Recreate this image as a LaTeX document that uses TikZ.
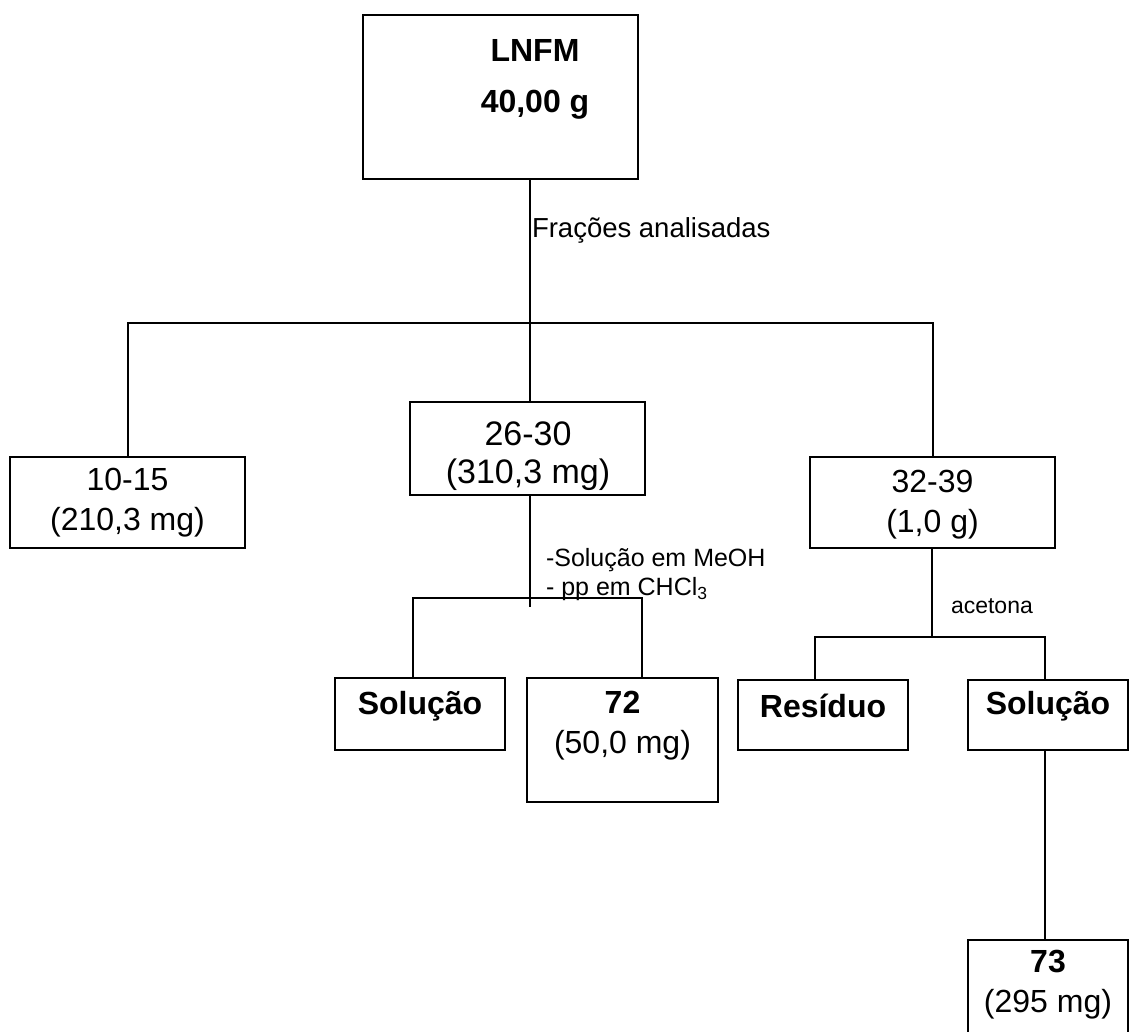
\documentclass[tikz,border=0pt]{standalone}
\usepackage{fontspec}
\setmainfont{Liberation Sans}
\usetikzlibrary{arrows}

\tikzset{
    caixa/.style={rectangle, draw, line width=2pt, inner sep=0pt},
    txt/.style={font=\fontsize{32}{40}\selectfont, align=center, inner sep=0pt},
    lbl/.style={font=\fontsize{25}{30}\selectfont, anchor=west, inner sep=0pt}
}

\begin{document}
\begin{tikzpicture}[x=1pt, y=-1pt, line width=2pt]

    \useasboundingbox (0,0) rectangle (1131,1031);

    \node[caixa,
          minimum width = 275pt,
          minimum height = 164pt
          ] (lnfm) at (500.5,97) {};
    \node[txt] at (535,50) {\textbf{LNFM}};
    \node[txt] at (535,105) {\textbf{40,00 g}};

    \node[caixa,
          minimum width = 235pt,
          minimum height = 91pt
          ] (f1015) at (127.5,502.5) {};
    \node[txt] at (127.5,503) {10-15\\(210,3 mg)};

    \node[caixa,
          minimum width = 235pt,
          minimum height = 93pt
          ] (f2630) at (527.5,448.5) {};
    \node[txt, font=\fontsize{34}{38}\selectfont] at (528,456) {26-30\\(310,3 mg)};

    \node[caixa,
          minimum width = 245pt,
          minimum height = 91pt
          ] (f3239) at (932.5,502.5) {};
    \node[txt] at (932.5,505) {32-39\\(1,0 g)};

    \node[caixa,
          minimum width = 170pt,
          minimum height = 72pt
          ] (sol1) at (420,714) {};
    \node[txt] at (420,706) {\textbf{Solução}};

    \node[caixa,
          minimum width = 191pt,
          minimum height = 124pt
          ] (c72) at (622.5,740) {};
    \node[txt] at (622.5,726) {\textbf{72}\\(50,0 mg)};

    \node[caixa,
          minimum width = 170pt,
          minimum height = 70pt
          ] (res) at (823,715) {};
    \node[txt] at (823,706) {\textbf{Resíduo}};

    \node[caixa,
          minimum width = 160pt,
          minimum height = 70pt
          ] (sol2) at (1048,715) {};
    \node[txt] at (1048,706) {\textbf{Solução}};

    \node[caixa,
          minimum width = 160pt,
          minimum height = 96pt
          ] (c73) at (1048,988) {};
    \node[txt] at (1048,985) {\textbf{73}\\(295 mg)};

    % junctions of the tree
    \coordinate (bar1) at (530,323);
    \coordinate (bar2l) at (413,598);
    \coordinate (bar2r) at (642,598);
    \coordinate (bar2end) at (530,607);
    \coordinate (bar3) at (932,637);
    \coordinate (bar3l) at (815,637);
    \coordinate (bar3r) at (1045,637);

    \node[lbl, font=\fontsize{27.5}{30}\selectfont] (fracoes) at (531,230) {Frações analisadas};
    \node[lbl] (meoh) at (545,560) {-Solução em MeOH};
    \node[lbl] (chcl) at (545,589) {- pp em CHCl\textsubscript{3}};
    \node[lbl, font=\fontsize{23}{28}\selectfont] (acetona) at (950,606) {acetona};

    %main split
    \draw (lnfm.south -| bar1) -- (f2630.north -| bar1);
    \draw (f1015.north) |- (bar1) -| (f3239.north);

    %26-30 split
    \draw (f2630.south -| bar2end) -- (bar2end);
    \draw (sol1.north -| bar2l) -- (bar2l) -- (bar2r) -- (c72.north -| bar2r);

    %32-39 split
    \draw (f3239.south -| bar3) -- (bar3);
    \draw (res.north -| bar3l) -- (bar3l) -- (bar3r) -- (sol2.north -| bar3r);
    \draw (sol2.south -| bar3r) -- (c73.north -| bar3r);

\end{tikzpicture}
\end{document}
